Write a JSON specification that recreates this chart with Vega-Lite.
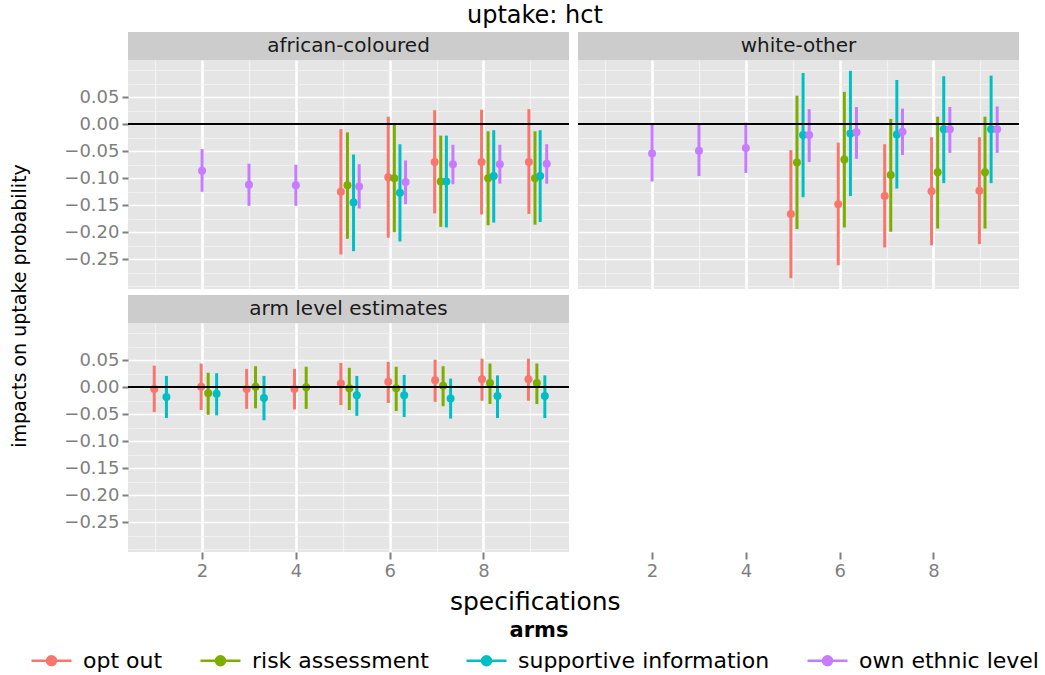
{
  "$schema": "https://vega.github.io/schema/vega-lite/v6.json",
  "background": "white",
  "padding": {"left": 10, "top": 4, "right": 5, "bottom": 0},
  "autosize": {"type": "pad"},
  "title": {"text": "uptake: hct", "fontSize": 24, "fontWeight": "normal", "color": "black", "anchor": "middle", "offset": 4, "dx": 10, "font": "DejaVu Sans"},
  "config": {
    "font": "DejaVu Sans",
    "view": {"stroke": null},
    "axis": {"domain": false, "labelFont": "DejaVu Sans", "labelFontSize": 18, "labelColor": "#7F7F7F", "tickColor": "#7F7F7F", "tickWidth": 2, "tickSize": 7, "gridColor": "white", "titleFont": "DejaVu Sans", "titleFontWeight": "normal", "titleColor": "black", "labelPadding": 3}
  },
  "datasets": {
    "est": [
      {"panel": "african-coloured", "arm": "own ethnic level", "pos": 2.0, "est": -0.086, "lo": -0.125, "hi": -0.046},
      {"panel": "african-coloured", "arm": "own ethnic level", "pos": 3.0, "est": -0.112, "lo": -0.151, "hi": -0.073},
      {"panel": "african-coloured", "arm": "own ethnic level", "pos": 4.0, "est": -0.113, "lo": -0.151, "hi": -0.075},
      {"panel": "african-coloured", "arm": "opt out", "pos": 4.96, "est": -0.125, "lo": -0.241, "hi": -0.009},
      {"panel": "african-coloured", "arm": "risk assessment", "pos": 5.1, "est": -0.113, "lo": -0.212, "hi": -0.015},
      {"panel": "african-coloured", "arm": "supportive information", "pos": 5.23, "est": -0.145, "lo": -0.235, "hi": -0.056},
      {"panel": "african-coloured", "arm": "own ethnic level", "pos": 5.35, "est": -0.115, "lo": -0.156, "hi": -0.074},
      {"panel": "african-coloured", "arm": "opt out", "pos": 5.97, "est": -0.098, "lo": -0.21, "hi": 0.014},
      {"panel": "african-coloured", "arm": "risk assessment", "pos": 6.1, "est": -0.1, "lo": -0.2, "hi": -0.001},
      {"panel": "african-coloured", "arm": "supportive information", "pos": 6.22, "est": -0.127, "lo": -0.217, "hi": -0.037},
      {"panel": "african-coloured", "arm": "own ethnic level", "pos": 6.34, "est": -0.107, "lo": -0.148, "hi": -0.067},
      {"panel": "african-coloured", "arm": "opt out", "pos": 6.96, "est": -0.07, "lo": -0.165, "hi": 0.026},
      {"panel": "african-coloured", "arm": "risk assessment", "pos": 7.09, "est": -0.106, "lo": -0.19, "hi": -0.021},
      {"panel": "african-coloured", "arm": "supportive information", "pos": 7.21, "est": -0.106, "lo": -0.191, "hi": -0.021},
      {"panel": "african-coloured", "arm": "own ethnic level", "pos": 7.35, "est": -0.074, "lo": -0.111, "hi": -0.038},
      {"panel": "african-coloured", "arm": "opt out", "pos": 7.96, "est": -0.07, "lo": -0.167, "hi": 0.027},
      {"panel": "african-coloured", "arm": "risk assessment", "pos": 8.1, "est": -0.1, "lo": -0.187, "hi": -0.013},
      {"panel": "african-coloured", "arm": "supportive information", "pos": 8.22, "est": -0.096, "lo": -0.182, "hi": -0.011},
      {"panel": "african-coloured", "arm": "own ethnic level", "pos": 8.35, "est": -0.074, "lo": -0.11, "hi": -0.038},
      {"panel": "african-coloured", "arm": "opt out", "pos": 8.97, "est": -0.07, "lo": -0.166, "hi": 0.028},
      {"panel": "african-coloured", "arm": "risk assessment", "pos": 9.1, "est": -0.1, "lo": -0.186, "hi": -0.013},
      {"panel": "african-coloured", "arm": "supportive information", "pos": 9.21, "est": -0.096, "lo": -0.181, "hi": -0.011},
      {"panel": "african-coloured", "arm": "own ethnic level", "pos": 9.35, "est": -0.073, "lo": -0.11, "hi": -0.037},

      {"panel": "white-other", "arm": "own ethnic level", "pos": 2.0, "est": -0.054, "lo": -0.106, "hi": 0.0},
      {"panel": "white-other", "arm": "own ethnic level", "pos": 3.0, "est": -0.049, "lo": -0.096, "hi": 0.0},
      {"panel": "white-other", "arm": "own ethnic level", "pos": 4.0, "est": -0.044, "lo": -0.09, "hi": 0.003},
      {"panel": "white-other", "arm": "opt out", "pos": 4.96, "est": -0.166, "lo": -0.285, "hi": -0.048},
      {"panel": "white-other", "arm": "risk assessment", "pos": 5.09, "est": -0.071, "lo": -0.194, "hi": 0.053},
      {"panel": "white-other", "arm": "supportive information", "pos": 5.22, "est": -0.02, "lo": -0.135, "hi": 0.095},
      {"panel": "white-other", "arm": "own ethnic level", "pos": 5.35, "est": -0.02, "lo": -0.07, "hi": 0.028},
      {"panel": "white-other", "arm": "opt out", "pos": 5.97, "est": -0.148, "lo": -0.261, "hi": -0.034},
      {"panel": "white-other", "arm": "risk assessment", "pos": 6.1, "est": -0.065, "lo": -0.191, "hi": 0.06},
      {"panel": "white-other", "arm": "supportive information", "pos": 6.23, "est": -0.017, "lo": -0.133, "hi": 0.099},
      {"panel": "white-other", "arm": "own ethnic level", "pos": 6.36, "est": -0.015, "lo": -0.064, "hi": 0.032},
      {"panel": "white-other", "arm": "opt out", "pos": 6.96, "est": -0.133, "lo": -0.228, "hi": -0.037},
      {"panel": "white-other", "arm": "risk assessment", "pos": 7.09, "est": -0.094, "lo": -0.199, "hi": 0.01},
      {"panel": "white-other", "arm": "supportive information", "pos": 7.22, "est": -0.019, "lo": -0.119, "hi": 0.082},
      {"panel": "white-other", "arm": "own ethnic level", "pos": 7.34, "est": -0.014, "lo": -0.057, "hi": 0.029},
      {"panel": "white-other", "arm": "opt out", "pos": 7.96, "est": -0.124, "lo": -0.224, "hi": -0.024},
      {"panel": "white-other", "arm": "risk assessment", "pos": 8.09, "est": -0.089, "lo": -0.193, "hi": 0.014},
      {"panel": "white-other", "arm": "supportive information", "pos": 8.22, "est": -0.009, "lo": -0.109, "hi": 0.089},
      {"panel": "white-other", "arm": "own ethnic level", "pos": 8.35, "est": -0.009, "lo": -0.053, "hi": 0.032},
      {"panel": "white-other", "arm": "opt out", "pos": 8.98, "est": -0.123, "lo": -0.222, "hi": -0.024},
      {"panel": "white-other", "arm": "risk assessment", "pos": 9.1, "est": -0.089, "lo": -0.193, "hi": 0.014},
      {"panel": "white-other", "arm": "supportive information", "pos": 9.23, "est": -0.009, "lo": -0.109, "hi": 0.09},
      {"panel": "white-other", "arm": "own ethnic level", "pos": 9.36, "est": -0.009, "lo": -0.053, "hi": 0.033},

      {"panel": "arm level estimates", "arm": "opt out", "pos": 0.98, "est": -0.003, "lo": -0.046, "hi": 0.04},
      {"panel": "arm level estimates", "arm": "supportive information", "pos": 1.24, "est": -0.018, "lo": -0.057, "hi": 0.021},
      {"panel": "arm level estimates", "arm": "opt out", "pos": 1.98, "est": 0.001, "lo": -0.042, "hi": 0.044},
      {"panel": "arm level estimates", "arm": "risk assessment", "pos": 2.13, "est": -0.011, "lo": -0.051, "hi": 0.027},
      {"panel": "arm level estimates", "arm": "supportive information", "pos": 2.31, "est": -0.012, "lo": -0.052, "hi": 0.026},
      {"panel": "arm level estimates", "arm": "opt out", "pos": 2.95, "est": -0.003, "lo": -0.04, "hi": 0.034},
      {"panel": "arm level estimates", "arm": "risk assessment", "pos": 3.14, "est": 0.001, "lo": -0.039, "hi": 0.039},
      {"panel": "arm level estimates", "arm": "supportive information", "pos": 3.32, "est": -0.02, "lo": -0.061, "hi": 0.021},
      {"panel": "arm level estimates", "arm": "opt out", "pos": 3.97, "est": -0.003, "lo": -0.041, "hi": 0.034},
      {"panel": "arm level estimates", "arm": "risk assessment", "pos": 4.22, "est": 0.0, "lo": -0.04, "hi": 0.038},
      {"panel": "arm level estimates", "arm": "opt out", "pos": 4.96, "est": 0.007, "lo": -0.033, "hi": 0.045},
      {"panel": "arm level estimates", "arm": "risk assessment", "pos": 5.14, "est": -0.002, "lo": -0.042, "hi": 0.036},
      {"panel": "arm level estimates", "arm": "supportive information", "pos": 5.3, "est": -0.015, "lo": -0.053, "hi": 0.021},
      {"panel": "arm level estimates", "arm": "opt out", "pos": 5.97, "est": 0.01, "lo": -0.029, "hi": 0.047},
      {"panel": "arm level estimates", "arm": "risk assessment", "pos": 6.14, "est": -0.002, "lo": -0.044, "hi": 0.038},
      {"panel": "arm level estimates", "arm": "supportive information", "pos": 6.31, "est": -0.015, "lo": -0.055, "hi": 0.023},
      {"panel": "arm level estimates", "arm": "opt out", "pos": 6.97, "est": 0.013, "lo": -0.027, "hi": 0.051},
      {"panel": "arm level estimates", "arm": "risk assessment", "pos": 7.14, "est": 0.003, "lo": -0.035, "hi": 0.039},
      {"panel": "arm level estimates", "arm": "supportive information", "pos": 7.3, "est": -0.021, "lo": -0.058, "hi": 0.016},
      {"panel": "arm level estimates", "arm": "opt out", "pos": 7.97, "est": 0.015, "lo": -0.025, "hi": 0.053},
      {"panel": "arm level estimates", "arm": "risk assessment", "pos": 8.14, "est": 0.008, "lo": -0.031, "hi": 0.044},
      {"panel": "arm level estimates", "arm": "supportive information", "pos": 8.3, "est": -0.016, "lo": -0.057, "hi": 0.022},
      {"panel": "arm level estimates", "arm": "opt out", "pos": 8.96, "est": 0.015, "lo": -0.025, "hi": 0.053},
      {"panel": "arm level estimates", "arm": "risk assessment", "pos": 9.14, "est": 0.008, "lo": -0.031, "hi": 0.044},
      {"panel": "arm level estimates", "arm": "supportive information", "pos": 9.31, "est": -0.016, "lo": -0.057, "hi": 0.022}
    ]
  },
  "resolve": {"scale": {"color": "shared"}, "legend": {"color": "shared"}},
  "vconcat": [
    {
      "title": {"text": "specifications", "orient": "bottom", "anchor": "middle", "fontSize": 25, "fontWeight": "normal", "color": "black", "offset": 10, "dx": 20},
      "resolve": {"scale": {"color": "shared"}, "legend": {"color": "shared"}},
      "vconcat": [
        {
          "title": {"text": "impacts on uptake probability", "orient": "left", "anchor": "middle", "fontSize": 19, "fontWeight": "normal", "color": "black", "offset": 34},
          "resolve": {"scale": {"color": "shared"}, "legend": {"color": "shared"}},
          "spacing": 7,
          "hconcat": [
            {
              "spacing": 6,
              "resolve": {"scale": {"color": "shared"}, "legend": {"color": "shared"}},
              "vconcat": [
                {
                  "spacing": 0, "bounds": "flush",
                  "vconcat": [
                    {"width": 441, "height": 28, "data": {"values": [{"label": "african-coloured"}]}, "view": {"fill": "#CCCCCC", "stroke": null},
                     "mark": {"type": "text", "fontSize": 20, "color": "#1A1A1A", "baseline": "middle", "align": "center"},
                     "encoding": {"text": {"field": "label", "type": "nominal"}}},
                    {
                      "width": 441, "height": 229,
                      "data": {"name": "est"},
                      "transform": [{"filter": "datum.panel === 'african-coloured'"}],
                      "view": {"fill": "#E5E5E5", "stroke": null},
                      "layer": [
                        {"mark": {"type": "rule", "strokeWidth": 3},
                         "encoding": {
                           "x": {"field": "pos", "type": "quantitative", "scale": {"domain": [0.42, 9.825], "nice": false, "zero": false}, "axis": {"orient": "top", "values": [1, 3, 5, 7, 9], "labels": false, "ticks": false, "domain": false, "grid": true, "gridColor": "#F2F2F2", "gridWidth": 1.3, "title": null}},
                           "y": {"field": "hi", "type": "quantitative", "scale": {"domain": [-0.305, 0.119], "nice": false, "zero": false}, "axis": {"orient": "right", "values": [-0.3, -0.275, -0.225, -0.175, -0.125, -0.075, -0.025, 0.025, 0.075, 0.1], "labels": false, "ticks": false, "domain": false, "grid": true, "gridColor": "#F2F2F2", "gridWidth": 0.8, "title": null}},
                           "y2": {"field": "lo"},
                           "color": {"field": "arm", "type": "nominal", "scale": {"domain": ["opt out", "risk assessment", "supportive information", "own ethnic level"], "range": ["#F8766D", "#7CAE00", "#00BFC4", "#C77CFF"]}}
                         }},
                        {"mark": {"type": "circle", "size": 64, "opacity": 1},
                         "encoding": {
                           "x": {"field": "pos", "type": "quantitative", "scale": {"domain": [0.42, 9.825], "nice": false, "zero": false}, "axis": {"orient": "bottom", "values": [2, 4, 6, 8], "labels": false, "ticks": false, "grid": true, "gridWidth": 2.5, "title": null}},
                           "y": {"field": "est", "type": "quantitative", "scale": {"domain": [-0.305, 0.119], "nice": false, "zero": false}, "axis": {"orient": "left", "values": [-0.25, -0.2, -0.15, -0.1, -0.05, 0, 0.05], "format": ".2f", "grid": true, "gridWidth": 1.6, "tickSize": 6, "title": null}},
                           "color": {"field": "arm", "type": "nominal", "scale": {"domain": ["opt out", "risk assessment", "supportive information", "own ethnic level"], "range": ["#F8766D", "#7CAE00", "#00BFC4", "#C77CFF"]},
                             "legend": {"title": "arms", "orient": "none", "legendX": -88, "legendY": 588, "direction": "horizontal", "titleAnchor": "middle", "titleFontSize": 21, "titleFontWeight": "bold", "titleColor": "black", "titlePadding": 8, "labelFontSize": 22, "labelColor": "black", "labelLimit": 0, "labelOffset": 20, "symbolType": "M-2,0H2M-0.45,0A0.45,0.45 0 1 0 0.45,0A0.45,0.45 0 1 0 -0.45,0Z", "symbolSize": 400, "symbolStrokeWidth": 2.5, "symbolOpacity": 1, "columnPadding": 32,
                               "encode": {"symbols": {"update": {"fill": {"scale": "color", "field": "value"}, "stroke": {"scale": "color", "field": "value"}}}}}}
                         }},
                        {"mark": {"type": "rule", "color": "black", "strokeWidth": 1.5},
                         "encoding": {"y": {"datum": 0, "type": "quantitative", "axis": null}}}
                      ],
                      "resolve": {"axis": {"x": "independent", "y": "independent"}}
                    }
                  ]
                },
                {
                  "spacing": 0, "bounds": "flush",
                  "vconcat": [
                    {"width": 441, "height": 28, "data": {"values": [{"label": "arm level estimates"}]}, "view": {"fill": "#CCCCCC", "stroke": null},
                     "mark": {"type": "text", "fontSize": 20, "color": "#1A1A1A", "baseline": "middle", "align": "center"},
                     "encoding": {"text": {"field": "label", "type": "nominal"}}},
                    {
                      "width": 441, "height": 229,
                      "data": {"name": "est"},
                      "transform": [{"filter": "datum.panel === 'arm level estimates'"}],
                      "view": {"fill": "#E5E5E5", "stroke": null},
                      "layer": [
                        {"mark": {"type": "rule", "strokeWidth": 3},
                         "encoding": {
                           "x": {"field": "pos", "type": "quantitative", "scale": {"domain": [0.42, 9.825], "nice": false, "zero": false}, "axis": {"orient": "top", "values": [1, 3, 5, 7, 9], "labels": false, "ticks": false, "domain": false, "grid": true, "gridColor": "#F2F2F2", "gridWidth": 1.3, "title": null}},
                           "y": {"field": "hi", "type": "quantitative", "scale": {"domain": [-0.305, 0.119], "nice": false, "zero": false}, "axis": {"orient": "right", "values": [-0.3, -0.275, -0.225, -0.175, -0.125, -0.075, -0.025, 0.025, 0.075, 0.1], "labels": false, "ticks": false, "domain": false, "grid": true, "gridColor": "#F2F2F2", "gridWidth": 0.8, "title": null}},
                           "y2": {"field": "lo"},
                           "color": {"field": "arm", "type": "nominal", "scale": {"domain": ["opt out", "risk assessment", "supportive information", "own ethnic level"], "range": ["#F8766D", "#7CAE00", "#00BFC4", "#C77CFF"]}}
                         }},
                        {"mark": {"type": "circle", "size": 64, "opacity": 1},
                         "encoding": {
                           "x": {"field": "pos", "type": "quantitative", "scale": {"domain": [0.42, 9.825], "nice": false, "zero": false}, "axis": {"orient": "bottom", "values": [2, 4, 6, 8], "grid": true, "gridWidth": 2.5, "title": null}},
                           "y": {"field": "est", "type": "quantitative", "scale": {"domain": [-0.305, 0.119], "nice": false, "zero": false}, "axis": {"orient": "left", "values": [-0.25, -0.2, -0.15, -0.1, -0.05, 0, 0.05], "format": ".2f", "grid": true, "gridWidth": 1.6, "tickSize": 6, "title": null}},
                           "color": {"field": "arm", "type": "nominal", "scale": {"domain": ["opt out", "risk assessment", "supportive information", "own ethnic level"], "range": ["#F8766D", "#7CAE00", "#00BFC4", "#C77CFF"]}}
                         }},
                        {"mark": {"type": "rule", "color": "black", "strokeWidth": 1.5},
                         "encoding": {"y": {"datum": 0, "type": "quantitative", "axis": null}}}
                      ],
                      "resolve": {"axis": {"x": "independent", "y": "independent"}}
                    }
                  ]
                }
              ]
            },
            {
              "spacing": 0, "bounds": "flush",
              "vconcat": [
                {"width": 441, "height": 28, "data": {"values": [{"label": "white-other"}]}, "view": {"fill": "#CCCCCC", "stroke": null},
                 "mark": {"type": "text", "fontSize": 20, "color": "#1A1A1A", "baseline": "middle", "align": "center"},
                 "encoding": {"text": {"field": "label", "type": "nominal"}}},
                {
                  "width": 441, "height": 229,
                  "data": {"name": "est"},
                  "transform": [{"filter": "datum.panel === 'white-other'"}],
                  "view": {"fill": "#E5E5E5", "stroke": null},
                  "layer": [
                    {"mark": {"type": "rule", "strokeWidth": 3},
                     "encoding": {
                       "x": {"field": "pos", "type": "quantitative", "scale": {"domain": [0.42, 9.825], "nice": false, "zero": false}, "axis": {"orient": "top", "values": [1, 3, 5, 7, 9], "labels": false, "ticks": false, "domain": false, "grid": true, "gridColor": "#F2F2F2", "gridWidth": 1.3, "title": null}},
                       "y": {"field": "hi", "type": "quantitative", "scale": {"domain": [-0.305, 0.119], "nice": false, "zero": false}, "axis": {"orient": "right", "values": [-0.3, -0.275, -0.225, -0.175, -0.125, -0.075, -0.025, 0.025, 0.075, 0.1], "labels": false, "ticks": false, "domain": false, "grid": true, "gridColor": "#F2F2F2", "gridWidth": 0.8, "title": null}},
                       "y2": {"field": "lo"},
                       "color": {"field": "arm", "type": "nominal", "scale": {"domain": ["opt out", "risk assessment", "supportive information", "own ethnic level"], "range": ["#F8766D", "#7CAE00", "#00BFC4", "#C77CFF"]}}
                     }},
                    {"mark": {"type": "circle", "size": 64, "opacity": 1},
                     "encoding": {
                       "x": {"field": "pos", "type": "quantitative", "scale": {"domain": [0.42, 9.825], "nice": false, "zero": false}, "axis": {"orient": "bottom", "offset": 263, "values": [2, 4, 6, 8], "grid": true, "gridWidth": 2.5, "title": null}},
                       "y": {"field": "est", "type": "quantitative", "scale": {"domain": [-0.305, 0.119], "nice": false, "zero": false}, "axis": {"orient": "left", "values": [-0.25, -0.2, -0.15, -0.1, -0.05, 0, 0.05], "labels": false, "ticks": false, "grid": true, "gridWidth": 1.6, "title": null}},
                       "color": {"field": "arm", "type": "nominal", "scale": {"domain": ["opt out", "risk assessment", "supportive information", "own ethnic level"], "range": ["#F8766D", "#7CAE00", "#00BFC4", "#C77CFF"]}}
                     }},
                    {"mark": {"type": "rule", "color": "black", "strokeWidth": 1.5},
                     "encoding": {"y": {"datum": 0, "type": "quantitative", "axis": null}}}
                  ],
                  "resolve": {"axis": {"x": "independent", "y": "independent"}}
                }
              ]
            }
          ]
        }
      ]
    }
  ]
}
